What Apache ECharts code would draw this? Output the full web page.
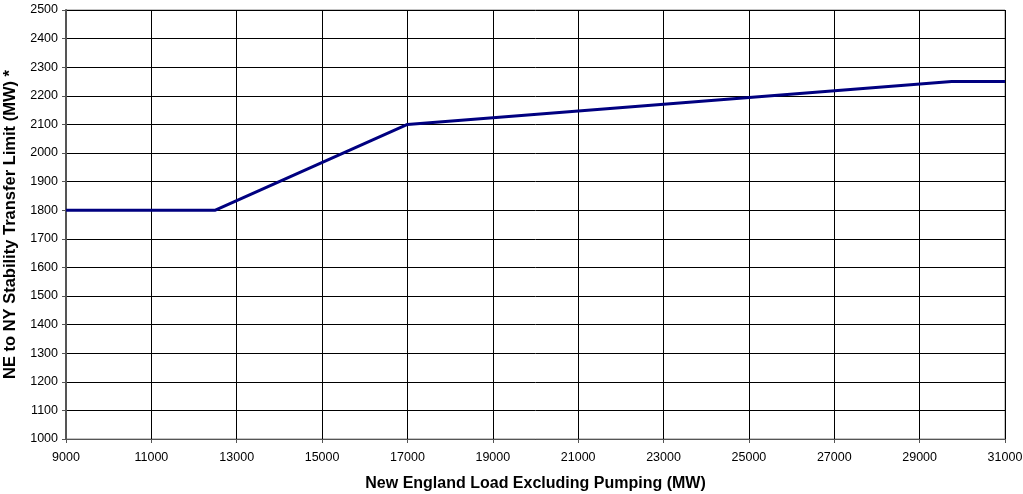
<!DOCTYPE html>
<html><head><meta charset="utf-8">
<script src="https://cdn.jsdelivr.net/npm/echarts@6/dist/echarts.min.js"></script>
<style>html,body{margin:0;padding:0;background:#fff}#c{width:1023px;height:494px}</style>
</head><body><div id="c"></div>
<script>
const loadMW = [9000, 12500, 17000, 29750, 31000];
const limitMW = [1800, 1800, 2100, 2250, 2250];
const xTitle = 'New England Load Excluding Pumping (MW)';
const yTitle = 'NE to NY Stability Transfer Limit (MW) *';

const chart = echarts.init(document.getElementById('c'), null, {renderer: 'canvas'});
chart.setOption({
  animation: false,
  backgroundColor: '#fff',
  grid: {left: 66, right: 18, top: 10, bottom: 55, show: true, borderColor: '#888', borderWidth: 1,
         containLabel: false, outerBoundsMode: 'none'},
  xAxis: {
    type: 'value', min: 9000, max: 31000, interval: 2000,
    name: xTitle, nameLocation: 'middle', nameGap: 37,
    nameTextStyle: {fontFamily: 'Liberation Sans', fontWeight: 'bold', fontSize: 16, color: '#000'},
    axisLine: {show: true, lineStyle: {color: '#555', width: 1}},
    axisTick: {show: true, inside: false, length: 4, lineStyle: {color: '#555'}},
    axisLabel: {fontFamily: 'Liberation Sans', fontSize: 12.5, color: '#000', margin: 12,
                formatter: v => String(v)},
    splitLine: {show: true, lineStyle: {color: '#000', width: 1}}
  },
  yAxis: {
    type: 'value', min: 1000, max: 2500, interval: 100,
    name: yTitle, nameLocation: 'middle', nameGap: 43, nameRotate: 90,
    nameTextStyle: {fontFamily: 'Liberation Sans', fontWeight: 'bold', fontSize: 16.5, color: '#000'},
    axisLine: {show: true, lineStyle: {color: '#555', width: 2}},
    axisTick: {show: true, inside: false, length: 4, lineStyle: {color: '#555'}},
    axisLabel: {fontFamily: 'Liberation Sans', fontSize: 12.5, color: '#000', margin: 8,
                formatter: v => String(v)},
    splitLine: {show: true, lineStyle: {color: '#000', width: 1}}
  },
  series: [{
    type: 'line',
    data: loadMW.map((x, i) => [x, limitMW[i]]),
    showSymbol: false,
    symbol: 'none',
    lineStyle: {color: '#000080', width: 3},
    z: 5
  }]
});
</script></body></html>
